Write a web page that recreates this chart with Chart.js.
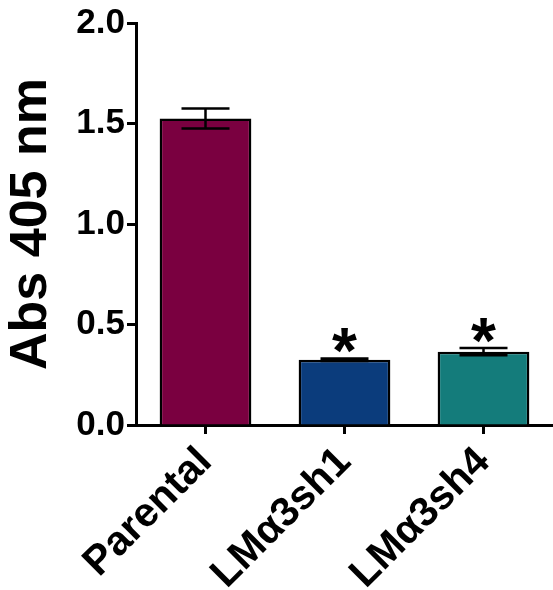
<!DOCTYPE html>
<html>
<head>
<meta charset="utf-8">
<script src="https://cdn.jsdelivr.net/npm/chart.js@4"></script>
<style>
  html, body { margin: 0; padding: 0; background: #fff; }
  #wrap { width: 553px; height: 590px; }
</style>
</head>
<body>
<div id="wrap"><canvas id="absChart"></canvas></div>
<script>
const groups = ['Parental', 'LMα3sh1', 'LMα3sh4'];
const absMean = [1.525, 0.325, 0.365];
const absErr = [0.05, 0.006, 0.018];
const signif = ['', '*', '*'];
const barColors = ['#7a0040', '#0b3c7c', '#147c7b'];
const yTicks = [0, 0.5, 1.0, 1.5, 2.0];

const FONT = '"Liberation Sans", Arial, Helvetica, sans-serif';

// error bars + asterisks on top of the bars
const errorBars = {
  id: 'errorBars',
  afterDatasetsDraw(chart) {
    const ctx = chart.ctx;
    const y = chart.scales.y;
    const meta = chart.getDatasetMeta(0);
    ctx.save();
    ctx.strokeStyle = '#000';
    ctx.lineWidth = 2.5;
    meta.data.forEach((bar, i) => {
      const x = bar.x;
      const hi = y.getPixelForValue(absMean[i] + absErr[i]);
      const lo = y.getPixelForValue(absMean[i] - absErr[i]);
      const cap = 24;
      ctx.beginPath();
      ctx.moveTo(x, hi); ctx.lineTo(x, lo);
      ctx.moveTo(x - cap, hi); ctx.lineTo(x + cap, hi);
      ctx.moveTo(x - cap, lo); ctx.lineTo(x + cap, lo);
      ctx.stroke();
      if (signif[i]) {
        ctx.font = 'bold 64px ' + FONT;
        ctx.fillStyle = '#000';
        ctx.textAlign = 'center';
        ctx.textBaseline = 'alphabetic';
        const m = ctx.measureText(signif[i]);
        ctx.fillText(signif[i], x, hi - 5 - m.actualBoundingBoxDescent);
      }
    });
    ctx.restore();
  }
};

new Chart(document.getElementById('absChart'), {
  type: 'bar',
  data: {
    labels: groups,
    datasets: [{
      data: absMean,
      backgroundColor: barColors,
      borderColor: '#000',
      borderWidth: 2.5,
      barPercentage: 0.66,
      categoryPercentage: 1.0
    }]
  },
  options: {
    responsive: true,
    maintainAspectRatio: false,
    animation: false,
    layout: { padding: { top: 2, right: 0, left: 0, bottom: 0 } },
    plugins: {
      legend: { display: false },
      tooltip: { enabled: false }
    },
    scales: {
      x: {
        grid: {
          offset: false,
          drawOnChartArea: false,
          color: '#000',
          tickLength: 9,
          tickWidth: 3
        },
        border: { color: '#000', width: 3 },
        ticks: {
          color: '#000',
          minRotation: 45,
          maxRotation: 45,
          padding: 4,
          font: { family: FONT, size: 41, weight: 'bold' }
        },
        afterFit(scale) { scale.height = 165; }
      },
      y: {
        min: 0,
        max: 2.0,
        afterBuildTicks(scale) { scale.ticks = yTicks.map(v => ({ value: v })); },
        grid: {
          drawOnChartArea: false,
          color: '#000',
          tickLength: 9,
          tickWidth: 3
        },
        border: { color: '#000', width: 3 },
        ticks: {
          color: '#000',
          padding: 2,
          callback: v => v.toFixed(1),
          font: { family: FONT, size: 35, weight: 'bold' }
        },
        title: {
          display: true,
          text: 'Abs 405 nm',
          color: '#000',
          padding: { top: 0, bottom: 0 },
          font: { family: FONT, size: 52, weight: 'bold' }
        },
        afterFit(scale) { scale.width = 136; }
      }
    }
  },
  plugins: [errorBars]
});
</script>
</body>
</html>
